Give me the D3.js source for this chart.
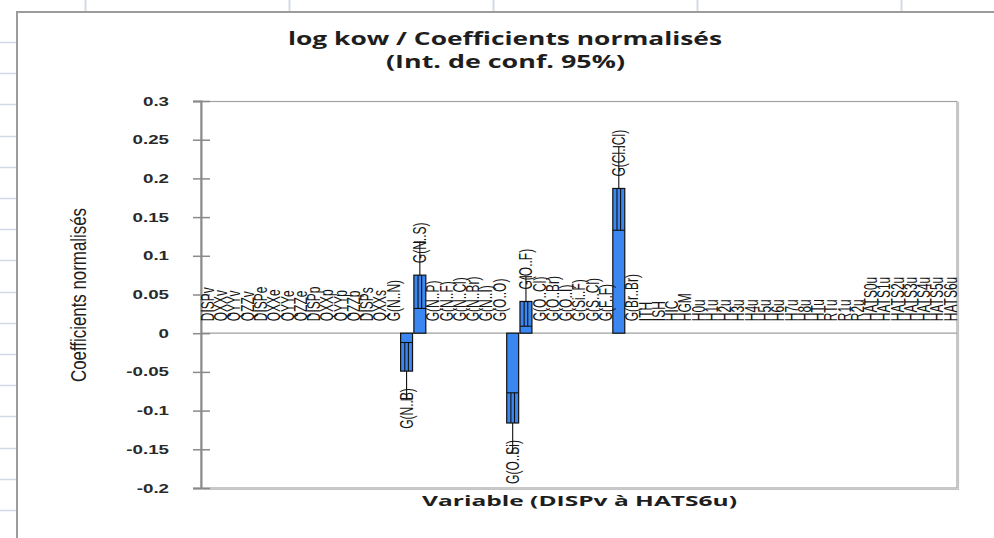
<!DOCTYPE html>
<html><head><meta charset="utf-8">
<script src="https://cdn.jsdelivr.net/npm/d3@7"></script>
<style>html,body{margin:0;padding:0;background:#fff;overflow:hidden}svg{display:block}</style>
</head><body>
<svg id="chart" width="994" height="538"></svg>
<script>
// ---- data ----
const categories = [
  "DISPv","QXXv","QYYv","QZZv","DISPe","QXXe","QYYe","QZZe","DISPp","QXXp","QYYp","QZZp","DISPs","QXXs",
  "G(N..N)","G(N..B)","G(N..S)","G(N..P)","G(N..F)","G(N..Cl)","G(N..Br)","G(N..I)","G(O..O)",
  "G(O..Si)","G(O..F)","G(O..Cl)","G(O..Br)","G(O..I)","G(Si..F)","G(S..Cl)","G(F..F)",
  "G(Cl..Cl)","G(Br..Br)","ITH","ISH","HIC","HGM",
  "H0u","H1u","H2u","H3u","H4u","H5u","H6u","H7u","H8u","HTu","RTu","R1u","R2u",
  "HATS0u","HATS1u","HATS2u","HATS3u","HATS4u","HATS5u","HATS6u"
];
const coefficients = [
  0,0,0,0,0,0,0,0,0,0,0,0,0,0,
  0,-0.049,0.075,0,0,0,0,0,0,
  -0.116,0.041,0,0,0,0,0,0,
  0.187,0,0,0,0,0,
  0,0,0,0,0,0,0,0,0,0,0,0,0,
  0,0,0,0,0,0,0
];
const confHalfWidth = [
  0,0,0,0,0,0,0,0,0,0,0,0,0,0,
  0,0.037,0.043,0,0,0,0,0,0,
  0.039,0.032,0,0,0,0,0,0,
  0.054,0,0,0,0,0,
  0,0,0,0,0,0,0,0,0,0,0,0,0,
  0,0,0,0,0,0,0
];
const yTickValues = [0.3,0.25,0.2,0.15,0.1,0.05,0,-0.05,-0.1,-0.15,-0.2];
const titleLines = ["log kow / Coefficients normalisés","(Int. de conf. 95%)"];
const xTitle = "Variable (DISPv à HATS6u)";
const yTitle = "Coefficients normalisés";

// ---- layout ----
const svg = d3.select("#chart");
const plot = {left:201, right:957, top:101, bottom:488};
const sx = 1.5; // horizontal stretch seen in the screenshot
const font = "'Liberation Sans', Arial, sans-serif";

// spreadsheet background
const gridColor = "#d3d9e6";
svg.append("g").selectAll("line").data(d3.range(85, 994, 204)).join("line")
  .attr("x1", d=>d+0.5).attr("x2", d=>d+0.5).attr("y1",0).attr("y2",11)
  .attr("stroke", gridColor).attr("stroke-width",2);
svg.append("g").selectAll("line").data(d3.range(42, 538, 31.2)).join("line")
  .attr("x1",0).attr("x2",16).attr("y1", d=>Math.round(d)+0.5).attr("y2", d=>Math.round(d)+0.5)
  .attr("stroke", gridColor).attr("stroke-width",1.5);

// chart area frame
svg.append("path").attr("d","M17,538V12H994").attr("fill","none")
  .attr("stroke","#9c9c9c").attr("stroke-width",2);

// scales
const x = d3.scaleBand().domain(categories).range([plot.left, plot.right])
  .paddingInner(0.1).paddingOuter(0.05);
const y = d3.scaleLinear().domain([-0.2,0.3]).range([plot.bottom, plot.top]);
const data = categories.map((c,i)=>({c, v:coefficients[i], e:confHalfWidth[i]}));

// plot area border
svg.append("rect").attr("x",plot.left).attr("y",plot.top+0.5)
  .attr("width",plot.right-plot.left).attr("height",plot.bottom-plot.top-0.5)
  .attr("fill","#fff").attr("stroke","#a3a3a3").attr("stroke-width",1.2);
svg.append("path").attr("d",`M${plot.right+1.5},${plot.top+1}V${plot.bottom+1.5}H${plot.left+2}`)
  .attr("fill","none").attr("stroke","#c4c4c4").attr("stroke-width",1.2);

// zero line
svg.append("line").attr("x1",plot.left).attr("x2",plot.right)
  .attr("y1",y(0)).attr("y2",y(0)).attr("stroke","#a0a0a0").attr("stroke-width",1.2);

// y axis
const yAxis = svg.append("g").attr("transform",`translate(${plot.left},0)`)
  .call(d3.axisLeft(y).tickValues(yTickValues).tickSize(8)
    .tickFormat(d=>String(+d.toFixed(2))));
yAxis.select(".domain").attr("stroke","#8a8a8a").attr("stroke-width",2);
yAxis.selectAll(".tick line").attr("x1",9).attr("stroke","#8a8a8a").attr("stroke-width",1.5);
yAxis.selectAll(".tick text")
  .attr("x",-32/sx).attr("transform",`scale(${sx},1)`)
  .attr("font-family",font).attr("font-size",12.5).attr("font-weight","bold")
  .attr("fill","#2a2a2a");

// bars
svg.append("g").selectAll("rect").data(data.filter(d=>d.v!==0)).join("rect")
  .attr("x", d=>x(d.c)).attr("width", x.bandwidth())
  .attr("y", d=>y(Math.max(0,d.v))).attr("height", d=>Math.abs(y(d.v)-y(0)))
  .attr("fill","#3b87f2").attr("stroke","#111").attr("stroke-width",1.2);

// error bars (outside the bar: single line, inside the bar: doubled line)
const eg = svg.append("g").attr("stroke","#111").attr("stroke-width",1.1);
data.filter(d=>d.e>0).forEach(d=>{
  const cx = x(d.c)+x.bandwidth()/2, hw = x.bandwidth()/2;
  const sgn = d.v<0 ? -1 : 1;
  const outer = d.v + sgn*d.e, inner = d.v - sgn*d.e;
  eg.append("line").attr("x1",cx).attr("x2",cx).attr("y1",y(d.v)).attr("y2",y(outer));
  [-1.8,1.8].forEach(o=>eg.append("line").attr("x1",cx+o).attr("x2",cx+o)
    .attr("y1",y(d.v)).attr("y2",y(inner)));
  [inner, outer].forEach(t=>eg.append("line")
    .attr("x1",cx-hw).attr("x2",cx+hw).attr("y1",y(t)).attr("y2",y(t)));
});

// data labels (category names)
svg.append("g").selectAll("text").data(data).join("text")
  .attr("transform", d=>`translate(${x(d.c)+x.bandwidth()/2},${d.v<0 ? y(d.v)+17 : y(d.v)-12}) scale(${sx},1) rotate(-90)`)
  .attr("text-anchor", d=>d.v<0 ? "end" : "start")
  .attr("dy","0.35em")
  .attr("font-family",font).attr("font-size",12).attr("fill","#151515")
  .text(d=>d.c);

// titles
svg.append("text").attr("x",288).attr("y",45).attr("textLength",434)
  .attr("lengthAdjust","spacingAndGlyphs")
  .attr("font-family","'Open Sans', "+font).attr("font-weight","bold").attr("font-size",17)
  .attr("fill","#1e1e1e").text(titleLines[0]);
svg.append("text").attr("x",386).attr("y",68).attr("textLength",239)
  .attr("lengthAdjust","spacingAndGlyphs")
  .attr("font-family","'Open Sans', "+font).attr("font-weight","bold").attr("font-size",17)
  .attr("fill","#1e1e1e").text(titleLines[1]);
svg.append("text").attr("x",422).attr("y",506).attr("textLength",315)
  .attr("lengthAdjust","spacingAndGlyphs")
  .attr("font-family","'Open Sans', "+font).attr("font-weight","bold").attr("font-size",15)
  .attr("fill","#1e1e1e").text(xTitle);
svg.append("text")
  .attr("transform",`translate(78,382) scale(${sx},1) rotate(-90)`)
  .attr("dy","0.35em").attr("textLength",174).attr("lengthAdjust","spacingAndGlyphs")
  .attr("font-family",font).attr("font-size",14.5).attr("fill","#1e1e1e")
  .text(yTitle);
</script>
</body></html>
